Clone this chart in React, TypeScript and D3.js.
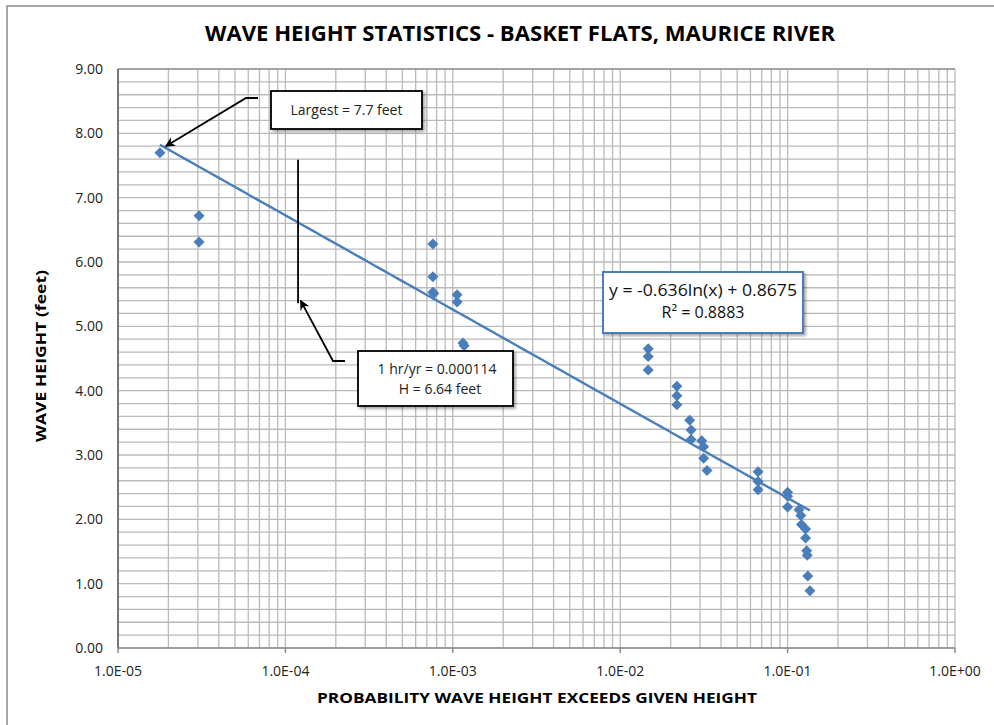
import React from "react";
import * as d3 from "d3";

const probabilities = [
  1.78e-5, 3.05e-5, 3.05e-5, 7.6e-4, 7.6e-4, 7.6e-4, 7.7e-4, 1.06e-3, 1.06e-3, 1.15e-3,
  1.17e-3, 1.47e-2, 1.47e-2, 1.47e-2, 2.18e-2, 2.18e-2, 2.18e-2, 2.6e-2, 2.65e-2, 2.65e-2,
  3.07e-2, 3.15e-2, 3.15e-2, 3.3e-2, 6.66e-2, 6.66e-2, 6.66e-2, 1.0e-1, 1.0e-1, 1.0e-1,
  1.17e-1, 1.2e-1, 1.21e-1, 1.28e-1, 1.28e-1, 1.3e-1, 1.31e-1, 1.32e-1, 1.36e-1,
];
const heights = [
  7.7, 6.72, 6.31, 6.28, 5.77, 5.53, 5.51, 5.49, 5.38, 4.74,
  4.7, 4.65, 4.53, 4.32, 4.07, 3.92, 3.78, 3.54, 3.39, 3.24,
  3.22, 3.13, 2.95, 2.76, 2.74, 2.59, 2.46, 2.42, 2.36, 2.19,
  2.15, 2.06, 1.92, 1.85, 1.71, 1.51, 1.44, 1.12, 0.89,
];
const xTickValues = [1e-5, 1e-4, 1e-3, 1e-2, 1e-1, 1];
const xTickLabels = ["1.0E-05", "1.0E-04", "1.0E-03", "1.0E-02", "1.0E-01", "1.0E+00"];
const yTickValues = [0, 1, 2, 3, 4, 5, 6, 7, 8, 9];
const trendSlope = -0.636;
const trendIntercept = 0.8675;

const W = 994;
const H = 725;
const left = 118, right = 955, top = 69, bottom = 648;
const BLUE = "#4a7ebb";
const FONT = "'Open Sans', 'Liberation Sans', sans-serif";

export default function App() {
  const x = d3.scaleLog().domain([1e-5, 1]).range([left, right]);
  const y = d3.scaleLinear().domain([0, 9]).range([bottom, top]);

  const minorX: number[] = [];
  for (let e = -5; e < 0; e++) {
    for (let k = 2; k <= 9; k++) minorX.push(k * Math.pow(10, e));
  }
  const minorY: number[] = d3.range(0, 9.0001, 0.2);

  const xmin = d3.min(probabilities)!;
  const xmax = d3.max(probabilities)!;
  const trendPts = d3.range(0, 101).map((i) => {
    const lx = Math.log10(xmin) + (Math.log10(xmax) - Math.log10(xmin)) * (i / 100);
    const v = Math.pow(10, lx);
    return [v, trendSlope * Math.log(v) + trendIntercept] as [number, number];
  });
  const line = d3.line<[number, number]>().x((d) => x(d[0])).y((d) => y(d[1]));

  const diamond = "M0,-5.5L5.5,0L0,5.5L-5.5,0Z";

  return (
    <div style={{ position: "absolute", left: 0, top: 0 }}>
      <svg width={W} height={H} style={{ display: "block" }}>
        <defs>
          <marker id="ah" viewBox="0 0 10 10" refX="9" refY="5" markerWidth="10" markerHeight="10" orient="auto-start-reverse" markerUnits="userSpaceOnUse">
            <path d="M0,0L10,5L0,10L3,5Z" fill="#000" />
          </marker>
          <filter id="sh" x="-10%" y="-10%" width="130%" height="140%">
            <feDropShadow dx="2" dy="2" stdDeviation="1.5" floodColor="#000" floodOpacity="0.35" />
          </filter>
        </defs>
        <rect x={0} y={0} width={W} height={H} fill="#fff" />
        <rect x={7} y={6} width={1100} height={900} fill="none" stroke="#8c8c8c" strokeWidth={1.5} />

        {/* gridlines */}
        <g stroke="#bababa" strokeWidth={1.3}>
          {minorY.map((v, i) => (
            <line key={"hy" + i} x1={left} x2={right} y1={y(v)} y2={y(v)} />
          ))}
          {minorX.map((v, i) => (
            <line key={"mx" + i} x1={x(v)} x2={x(v)} y1={top} y2={bottom} />
          ))}
          {xTickValues.map((v, i) => (
            <line key={"Mx" + i} x1={x(v)} x2={x(v)} y1={top} y2={bottom} />
          ))}
        </g>
        <line x1={left} x2={right} y1={top} y2={top} stroke="#7f7f7f" strokeWidth={1.2} />

        {/* axes */}
        <line x1={left} x2={left} y1={top} y2={bottom} stroke="#595959" strokeWidth={1.5} />
        <line x1={left} x2={right} y1={bottom} y2={bottom} stroke="#8c8c8c" strokeWidth={1.5} />
        {xTickValues.map((v, i) => (
          <line key={"xt" + i} x1={x(v)} x2={x(v)} y1={bottom} y2={bottom + 5} stroke="#8c8c8c" strokeWidth={1.5} />
        ))}

        {/* tick labels */}
        {yTickValues.map((v) => (
          <text key={"yl" + v} x={103} y={y(v)} dy="0.35em" textAnchor="end" fontFamily={FONT} fontSize={14} fill="#222">
            {v.toFixed(2)}
          </text>
        ))}
        {xTickValues.map((v, i) => (
          <text key={"xl" + i} x={x(v)} y={671} dy="0.35em" textAnchor="middle" fontFamily={FONT} fontSize={14} fill="#222">
            {xTickLabels[i]}
          </text>
        ))}

        {/* titles */}
        <text x={520} y={41} textAnchor="middle" fontFamily={FONT} fontWeight="bold" fontSize={21} textLength={630} lengthAdjust="spacingAndGlyphs" fill="#000">
          WAVE HEIGHT STATISTICS - BASKET FLATS, MAURICE RIVER
        </text>
        <text x={537} y={703} textAnchor="middle" fontFamily={FONT} fontWeight="bold" fontSize={15} textLength={440} lengthAdjust="spacingAndGlyphs" fill="#000">
          PROBABILITY WAVE HEIGHT EXCEEDS GIVEN HEIGHT
        </text>
        <text transform="translate(46,356) rotate(-90)" textAnchor="middle" fontFamily={FONT} fontWeight="bold" fontSize={15} textLength={172} lengthAdjust="spacingAndGlyphs" fill="#000">
          WAVE HEIGHT  (feet)
        </text>

        {/* trendline */}
        <path d={line(trendPts) || ""} fill="none" stroke={BLUE} strokeWidth={2.4} />

        {/* points */}
        {probabilities.map((p, i) => (
          <path key={"pt" + i} d={diamond} transform={`translate(${x(p)},${y(heights[i])})`} fill={BLUE} />
        ))}

        {/* annotation: largest */}
        <polyline points={`258,98 246,98 ${x(1.85e-5) + 3},${y(7.8)}`} fill="none" stroke="#000" strokeWidth={1.8} markerEnd="url(#ah)" />
        <g filter="url(#sh)">
          <rect x={271} y={91} width={151} height={38} fill="#fff" stroke="#000" strokeWidth={1.8} />
        </g>
        <text x={346.5} y={110} dy="0.35em" textAnchor="middle" fontFamily={FONT} fontSize={14} fill="#222">
          Largest = 7.7 feet
        </text>

        {/* annotation: 1 hr/yr */}
        <line x1={x(1.19e-4)} x2={x(1.19e-4)} y1={y(7.59)} y2={y(5.36)} stroke="#000" strokeWidth={1.8} />
        <polyline points={`345,361 333,361 ${x(1.2e-4) + 2},${y(5.4)}`} fill="none" stroke="#000" strokeWidth={1.8} markerEnd="url(#ah)" />
        <g filter="url(#sh)">
          <rect x={358} y={351} width={155} height={55} fill="#fff" stroke="#000" strokeWidth={1.8} />
        </g>
        <text x={437} y={369} dy="0.35em" textAnchor="middle" fontFamily={FONT} fontSize={14} fill="#222">
          1 hr/yr = 0.000114
        </text>
        <text x={440} y={389} dy="0.35em" textAnchor="middle" fontFamily={FONT} fontSize={14} fill="#222">
          H = 6.64 feet
        </text>

        {/* equation box */}
        <g filter="url(#sh)">
          <rect x={603} y={272} width={200} height={61} fill="#fff" stroke={BLUE} strokeWidth={2} />
        </g>
        <text x={703} y={290} dy="0.35em" textAnchor="middle" fontFamily={FONT} fontSize={16} textLength={188} lengthAdjust="spacingAndGlyphs" fill="#111">
          y = -0.636ln(x) + 0.8675
        </text>
        <text x={703} y={312} dy="0.35em" textAnchor="middle" fontFamily={FONT} fontSize={16} fill="#111">
          R² = 0.8883
        </text>
      </svg>
    </div>
  );
}
